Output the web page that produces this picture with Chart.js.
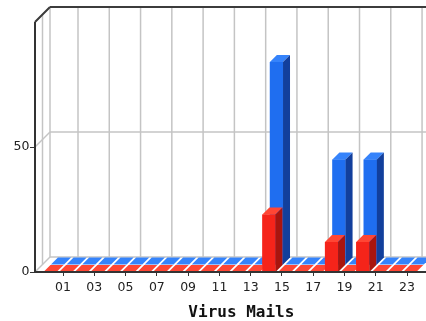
<!DOCTYPE html>
<html lang="en">
<head>
  <meta charset="UTF-8">
  <title>Virus Mails</title>
  <style>
    html, body { margin: 0; padding: 0; background: #fff; }
    canvas { display: block; }
  </style>
  <script src="https://cdn.jsdelivr.net/npm/chart.js"></script>
</head>
<body>

<canvas id="chart" width="426" height="321"></canvas>

<script>
  // one bar per hour of the day
  const hours = ['01','02','03','04','05','06','07','08','09','10','11','12',
                 '13','14','15','16','17','18','19','20','21','22','23','24'];
  // back row (blue)
  const totalMails = [0,0,0,0,0,0,0,0,0,0,0,0, 0,0,81,0,0,0,42,0,42,0,0,0];
  // front row (red)
  const virusMails = [0,0,0,0,0,0,0,0,0,0,0,0, 0,0,23,0,0,0,12,0,12,0,0,0];
  const yLabels = [0, 50];
  const yMax = 100;

  const DEPTH = 15;      // depth of the 3d box
  const BAR_DEPTH = 7;   // depth of one bar
  const AXIS_GAP = 28;   // front y axis sits left of the first hour
  // shift of each row inside the box (front row first)
  const rows = [
    { dx: -13,  dy: 0,    clipLeft: 35 },
    { dx: -5.5, dy: -7.5, clipLeft: 50 }
  ];

  function line(ctx, x1, y1, x2, y2) {
    ctx.beginPath();
    ctx.moveTo(x1, y1);
    ctx.lineTo(x2, y2);
    ctx.stroke();
  }

  const box3d = {
    id: 'box3d',
    beforeDatasetsDraw(chart) {
      const { ctx, chartArea: a, scales: { x, y } } = chart;
      const fx = a.left - AXIS_GAP, ft = a.top, fb = a.bottom;
      const bx = fx + DEPTH, bt = ft - DEPTH, bb = fb - DEPTH, right = chart.width;
      ctx.save();
      ctx.strokeStyle = '#c4c4c4';
      ctx.lineWidth = 1.5;
      // back wall + left wall horizontal lines
      y.ticks.forEach(t => {
        const py = y.getPixelForValue(t.value);
        line(ctx, fx, py, bx, py - DEPTH);
        line(ctx, bx, py - DEPTH, right, py - DEPTH);
      });
      // back wall vertical lines
      x.ticks.forEach((t, i) => {
        if (i % 2 === 0) {
          const px = x.getPixelForValue(i) + DEPTH;
          line(ctx, px, bt, px, bb);
        }
      });
      // left wall
      line(ctx, bx, bt, bx, bb);
      line(ctx, fx + DEPTH / 2, ft - DEPTH / 2, fx + DEPTH / 2, fb - DEPTH / 2);
      // top border
      ctx.strokeStyle = '#3c3c3c';
      ctx.lineWidth = 2;
      line(ctx, fx, ft, bx, bt);
      line(ctx, bx, bt, right, bt);
      ctx.restore();
    },
    beforeDatasetDraw(chart, args) {
      const ctx = chart.ctx;
      const r = rows[args.index];
      ctx.save();
      ctx.beginPath();
      ctx.rect(r.clipLeft, 0, chart.width, chart.height);
      ctx.clip();
      ctx.translate(r.dx, r.dy);
    },
    afterDatasetDraw(chart, args) {
      const ctx = chart.ctx;
      const ds = chart.data.datasets[args.index];
      const d = BAR_DEPTH;
      args.meta.data.forEach(bar => {
        const { x, y, base, width } = bar.getProps(['x', 'y', 'base', 'width'], true);
        const l = x - width / 2, r = x + width / 2;
        ctx.fillStyle = ds.backgroundColor;
        ctx.fillRect(l, y, width, base - y);
        ctx.fillStyle = ds.topColor;
        ctx.beginPath();
        ctx.moveTo(l, y); ctx.lineTo(r, y); ctx.lineTo(r + d, y - d); ctx.lineTo(l + d, y - d);
        ctx.closePath(); ctx.fill();
        ctx.fillStyle = ds.sideColor;
        ctx.beginPath();
        ctx.moveTo(r, y); ctx.lineTo(r + d, y - d); ctx.lineTo(r + d, base - d); ctx.lineTo(r, base);
        ctx.closePath(); ctx.fill();
      });
      ctx.restore();
    },
    afterDatasetsDraw(chart) {
      const { ctx, chartArea: a, scales: { y } } = chart;
      const fx = a.left - AXIS_GAP;
      ctx.save();
      ctx.strokeStyle = '#333';
      ctx.lineWidth = 2;
      line(ctx, fx, a.top, fx, a.bottom + 1);
      line(ctx, fx - 1, a.bottom, chart.width, a.bottom);
      ctx.lineWidth = 1;
      yLabels.forEach(v => {
        const py = Math.round(y.getPixelForValue(v)) + 0.5;
        line(ctx, fx - 5, py, fx, py);
      });
      // axis title
      ctx.fillStyle = '#111';
      ctx.font = 'bold 16px "DejaVu Sans Mono"';
      ctx.textAlign = 'center';
      ctx.textBaseline = 'alphabetic';
      ctx.fillText('Virus Mails', (a.left + a.right) / 2 - 1.5, 317);
      ctx.restore();
    }
  };

  const labelFont = { family: '"DejaVu Sans", sans-serif', size: 12.5 };

  new Chart(document.getElementById('chart'), {
    type: 'bar',
    data: {
      labels: hours,
      datasets: [
        {
          label: 'Virus',
          data: virusMails,
          backgroundColor: '#f5241a',
          topColor: '#ff4634',
          sideColor: '#a9150e',
          grouped: false,
          clip: false
        },
        {
          label: 'Mails',
          data: totalMails,
          backgroundColor: '#1f6ef0',
          topColor: '#3583fb',
          sideColor: '#123f9c',
          grouped: false,
          clip: false
        }
      ]
    },
    options: {
      responsive: false,
      animation: false,
      devicePixelRatio: 1,
      barPercentage: 0.84,
      categoryPercentage: 1,
      layout: { padding: { left: 0, right: 3.3, top: 22, bottom: 0 } },
      plugins: { legend: { display: false }, tooltip: { enabled: false } },
      scales: {
        x: {
          offset: false,
          border: { display: false },
          grid: {
            offset: false,
            drawOnChartArea: false,
            drawTicks: true,
            tickLength: 4,
            color: c => (c.index % 2 === 0 ? '#333' : 'rgba(0,0,0,0)')
          },
          ticks: {
            autoSkip: false,
            maxRotation: 0,
            padding: 4,
            color: '#222',
            font: labelFont,
            callback: (v, i) => (i % 2 === 0 ? hours[i] : '')
          },
          afterFit: s => { s.height = 49; s.paddingLeft = 0; s.paddingRight = 0; }
        },
        y: {
          min: 0,
          max: yMax,
          border: { display: false },
          grid: { display: false, drawTicks: false },
          ticks: {
            stepSize: 50,
            padding: 33.5,
            color: '#222',
            font: labelFont,
            callback: v => (yLabels.includes(v) ? v : '')
          },
          afterFit: s => { s.width = 63; s.paddingTop = 0; s.paddingBottom = 0; }
        }
      }
    },
    plugins: [box3d]
  });
</script>

</body>
</html>
